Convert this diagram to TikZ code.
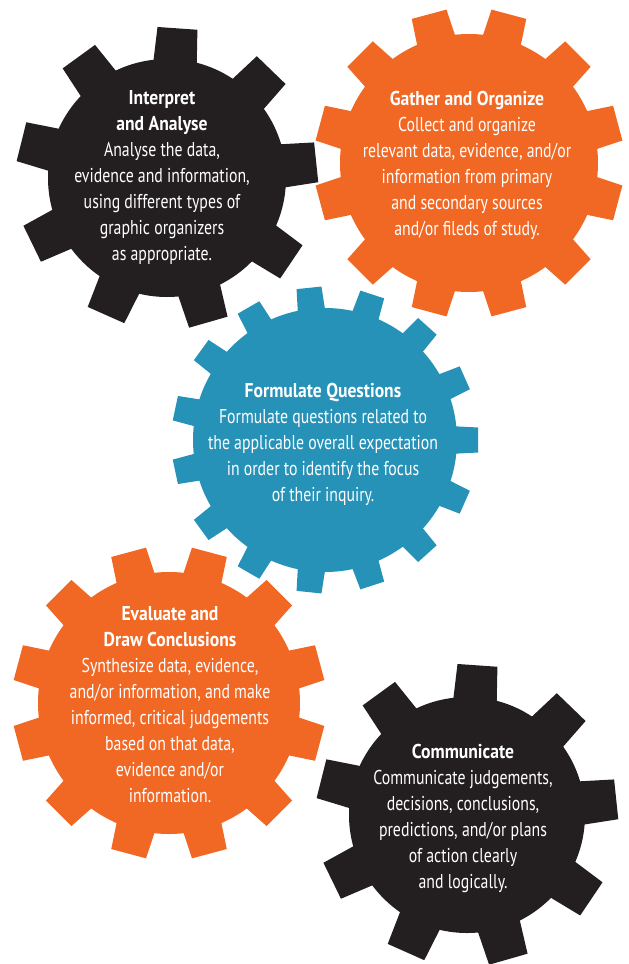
\documentclass[tikz,border=0pt]{standalone}
\usepackage{fontspec}
\setmainfont{PT Sans}[FakeStretch=0.79, BoldFeatures={FakeStretch=0.88}]
\definecolor{gearblack}{RGB}{35,31,32}
\definecolor{gearorange}{RGB}{241,104,37}
\definecolor{gearblue}{RGB}{38,146,184}

\begin{document}
\begin{tikzpicture}[x=1pt, y=-1pt,
    gtext/.style={align=center, text=white, inner sep=0pt,
                  font=\fontsize{20}{26}\selectfont}]
    \useasboundingbox (0,0) rectangle (629,964);

    % Interpret and Analyse gear
    \fill[gearblack] (167,178) circle (119);
    \foreach \a in {6,46,...,326}
        \fill[gearblack, shift={(167,178)}, rotate=\a] (110,-22) -- (150,-20) -- (150,20) -- (110,22) -- cycle;

    % Gather and Organize gear
    \fill[gearorange] (469,163) circle (129);
    \foreach \a in {15,45,...,345}
        \fill[gearorange, shift={(469,163)}, rotate=\a] (120,-20) -- (154,-18) -- (154,18) -- (120,20) -- cycle;

    % Evaluate gear
    \fill[gearorange] (169,703) circle (131);
    \foreach \a in {15,45,...,345}
        \fill[gearorange, shift={(169,703)}, rotate=\a] (122,-20) -- (156,-18) -- (156,18) -- (122,20) -- cycle;

    % Communicate gear
    \fill[gearblack] (467,815) circle (118);
    \foreach \a in {6,46,...,326}
        \fill[gearblack, shift={(467,815)}, rotate=\a] (110,-22) -- (150,-20) -- (150,20) -- (110,22) -- cycle;

    % Formulate Questions gear
    \fill[gearblue] (325,440) circle (132);
    \foreach \a in {0,24,...,336}
        \fill[gearblue, shift={(325,440)}, rotate=\a] (124,-14) -- (153,-12.5) -- (153,12.5) -- (124,14) -- cycle;

    % Texts
    \node[gtext] (interpret) at (162,177) {\textbf{Interpret}\\\textbf{and Analyse}\\Analyse the data,\\evidence and information,\\using different types of\\graphic organizers\\as appropriate.};
    \node[gtext] (gather) at (467,165) {\textbf{Gather and Organize}\\Collect and organize\\relevant data, evidence, and/or\\information from primary\\and secondary sources\\and/or fileds of study.};
    \node[gtext] (formulate) at (323,444) {\textbf{Formulate Questions}\\Formulate questions related to\\the applicable overall expectation\\in order to identify the focus\\of their inquiry.};
    \node[gtext] (evaluate) at (170,705) {\textbf{Evaluate and}\\\textbf{Draw Conclusions}\\Synthesize data, evidence,\\and/or information, and make\\informed, critical judgements\\based on that data,\\evidence and/or\\information.};
    \node[gtext] (communicate) at (463,818) {\textbf{Communicate}\\Communicate judgements,\\decisions, conclusions,\\predictions, and/or plans\\of action clearly\\and logically.};
\end{tikzpicture}
\end{document}
